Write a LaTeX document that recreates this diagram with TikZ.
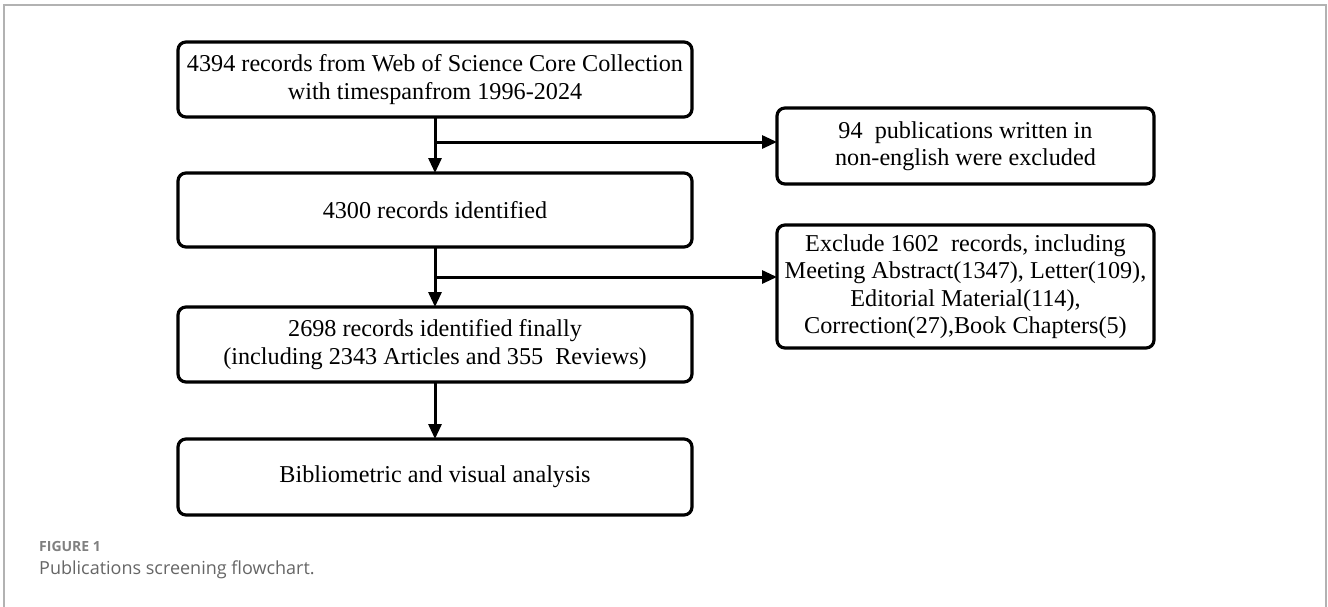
\documentclass[tikz,border=0pt]{standalone}
\usepackage{fontspec}
\setmainfont{Liberation Serif}
\newfontfamily\capfont{Open Sans}
\usetikzlibrary{arrows.meta,calc}
\begin{document}
\begin{tikzpicture}[x=1pt,y=-1pt,
  flowbox/.style={draw=black, line width=3.2pt, rounded corners=8pt, inner sep=0pt, outer sep=0pt,
    align=center, font=\fontsize{24.2}{27.5}\selectfont, fill=white},
  arr/.style={line width=3pt, -{Triangle[length=15pt,width=13pt]}},
  frameline/.style={draw=black!30, line width=1.3pt}]
\clip (0,0) rectangle (1328,606);
\fill[white] (0,0) rectangle (1328,606);
\draw[frameline] (4,620) -- (4,5) -- (1326,5) -- (1326,620);

\node[flowbox, minimum width=514pt, minimum height=75pt] (b1) at (435,79.5)
  {4394 records from Web of Science Core Collection\\with timespanfrom 1996-2024};
\node[flowbox, minimum width=514pt, minimum height=74pt] (b2) at (435,210)
  {4300 records identified};
\node[flowbox, minimum width=514pt, minimum height=75pt] (b3) at (435,344.5)
  {2698 records identified finally\\(including 2343 Articles and 355\ \ Reviews)};
\node[flowbox, minimum width=514pt, minimum height=76pt] (b4) at (435,477)
  {Bibliometric and visual analysis};
\node[flowbox, minimum width=377pt, minimum height=76pt] (bA) at (965.5,146)
  {94\ \ publications written in\\non-english were excluded};
\node[flowbox, minimum width=377pt, minimum height=123pt] (bB) at (965.5,286.5)
  {Exclude 1602\ \ records, including\\Meeting Abstract(1347), Letter(109),\\Editorial Material(114),\\Correction(27),Book Chapters(5)};

\coordinate (j1) at ($(b1.south)+(0,25)$);
\coordinate (j2) at ($(b2.south)+(0,30)$);
\draw[arr] (b1.south) -- (b2.north);
\draw[arr] (b2.south) -- (b3.north);
\draw[arr] (b3.south) -- (b4.north);
\draw[arr] (j1) -- (j1 -| bA.west);
\draw[arr] (j2) -- (j2 -| bB.west);

\node[anchor=west, inner sep=0pt, font=\capfont\bfseries\fontsize{14}{16}\selectfont, text=black!50] (fig) at (39,546) {FIGURE 1};
\node[anchor=west, inner sep=0pt, font=\capfont\fontsize{18}{21}\selectfont, text=black!60] (cap) at (39,570) {Publications screening flowchart.};
\end{tikzpicture}
\end{document}
